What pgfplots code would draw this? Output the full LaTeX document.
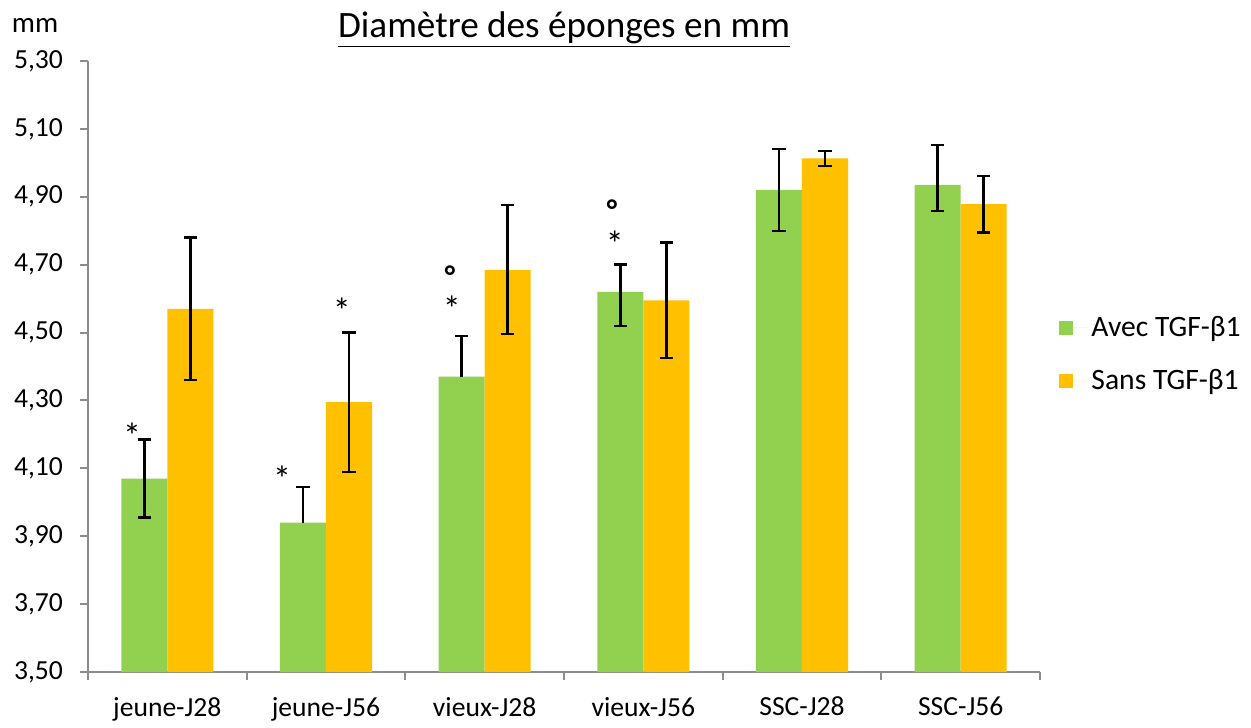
\documentclass[border=0pt]{standalone}
\usepackage{fontspec}
\setmainfont{Carlito}
\usepackage{pgfplots}
\pgfplotsset{compat=1.18}

\definecolor{vert}{HTML}{92D050}
\definecolor{jaune}{HTML}{FFC000}
\definecolor{axe}{HTML}{8C8C8C}

\begin{document}
\begin{tikzpicture}
\begin{axis}[
    scale only axis,
    width=476pt, height=305.5pt,
    xmin=-0.5, xmax=5.5,
    ymin=3.5, ymax=5.3,
    ybar=0pt, bar width=0.29,
    axis x line*=bottom, axis y line*=left,
    axis line style={-, draw=axe, line width=1pt},
    tick align=outside,
    major tick length=4pt, minor tick length=4pt,
    ytick={3.5,3.7,3.9,4.1,4.3,4.5,4.7,4.9,5.1,5.3},
    ytick style={draw=axe, line width=1pt},
    yticklabel style={xshift=-5pt, /pgf/number format/.cd, fixed, fixed zerofill, precision=2, use comma, assume math mode=true},
    xtick={0,1,2,3,4,5},
    xticklabels={jeune-J28, jeune-J56, vieux-J28, vieux-J56, SSC-J28, SSC-J56},
    major x tick style={draw=none},
    minor xtick={-0.5,0.5,1.5,2.5,3.5,4.5,5.5},
    minor x tick style={draw=axe, line width=1pt},
    xticklabel style={yshift=-5pt},
    tick label style={font=\fontsize{13.8}{16}\selectfont},
    legend style={at={(1.0137,0.52)}, anchor=west, draw=none, font=\fontsize{14.8}{17}\selectfont, row sep=11pt},
    legend cell align=left,
    legend image code/.code={\fill[#1] (0pt,-3.5pt) rectangle (7pt,3.5pt);
        \path (0pt,0pt) -- (14pt,0pt);},
    clip=false,
    err/.style={forget plot, fill=none, draw=none,
        error bars/y explicit,
        error bars/error bar style={black, line width=1.2pt},
        error bars/error mark options={rotate=90, mark size=3.3pt, line width=1.2pt, black}},
]
% barres
\addplot[fill=vert, draw=none, bar shift=-0.145] coordinates {
    (0,4.07) (1,3.94) (2,4.37) (3,4.62) (4,4.92) (5,4.935)};
\addplot[fill=jaune, draw=none, bar shift=0.145] coordinates {
    (0,4.57) (1,4.295) (2,4.685) (3,4.595) (4,5.013) (5,4.878)};
\legend{Avec TGF-β1, Sans TGF-β1}

% barres d'erreur
\addplot[err, bar shift=-0.145, error bars/y dir=both] coordinates {
    (0,4.07) +- (0,0.115)
    (3,4.62) += (0,0.08) -= (0,0.10)
    (4,4.92) += (0,0.12) -= (0,0.12)
    (5,4.935) += (0,0.117) -= (0,0.077)};
\addplot[err, bar shift=-0.145, error bars/y dir=plus] coordinates {
    (1,3.94) += (0,0.105)
    (2,4.37) += (0,0.12)};
\addplot[err, bar shift=0.145, error bars/y dir=both] coordinates {
    (0,4.57) +- (0,0.21)
    (1,4.295) +- (0,0.205)
    (2,4.685) +- (0,0.19)
    (3,4.595) +- (0,0.17)
    (4,5.013) +- (0,0.022)
    (5,4.878) +- (0,0.083)};

% significativite
\begin{scope}[every node/.style={font=\fontsize{18}{20}\selectfont, inner sep=0pt}]
\node[yshift=-3pt] at (axis cs:-0.222,4.213) {*};
\node[yshift=-3pt] at (axis cs:0.723,4.086) {*};
\node[yshift=-3pt] at (axis cs:1.100,4.581) {*};
\node[yshift=-3pt] at (axis cs:1.793,4.587) {*};
\node[yshift=-3pt, font=\bfseries\fontsize{15}{17}\selectfont] at (axis cs:1.781,4.684) {°};
\node[yshift=-3pt] at (axis cs:2.821,4.778) {*};
\node[yshift=-3pt, font=\bfseries\fontsize{15}{17}\selectfont] at (axis cs:2.802,4.878) {°};
\end{scope}

\node[anchor=base, yshift=12pt, font=\fontsize{18.6}{21}\selectfont] at (rel axis cs:0.5,1) {\underline{Diamètre des éponges en mm}};
\node[anchor=base, xshift=-26.5pt, yshift=14pt, font=\fontsize{14.5}{17}\selectfont] at (rel axis cs:0,1) {mm};
\end{axis}
\path (-44pt,-24pt) rectangle (476pt+105.5pt,305.5pt+30.5pt);
\end{tikzpicture}
\end{document}
